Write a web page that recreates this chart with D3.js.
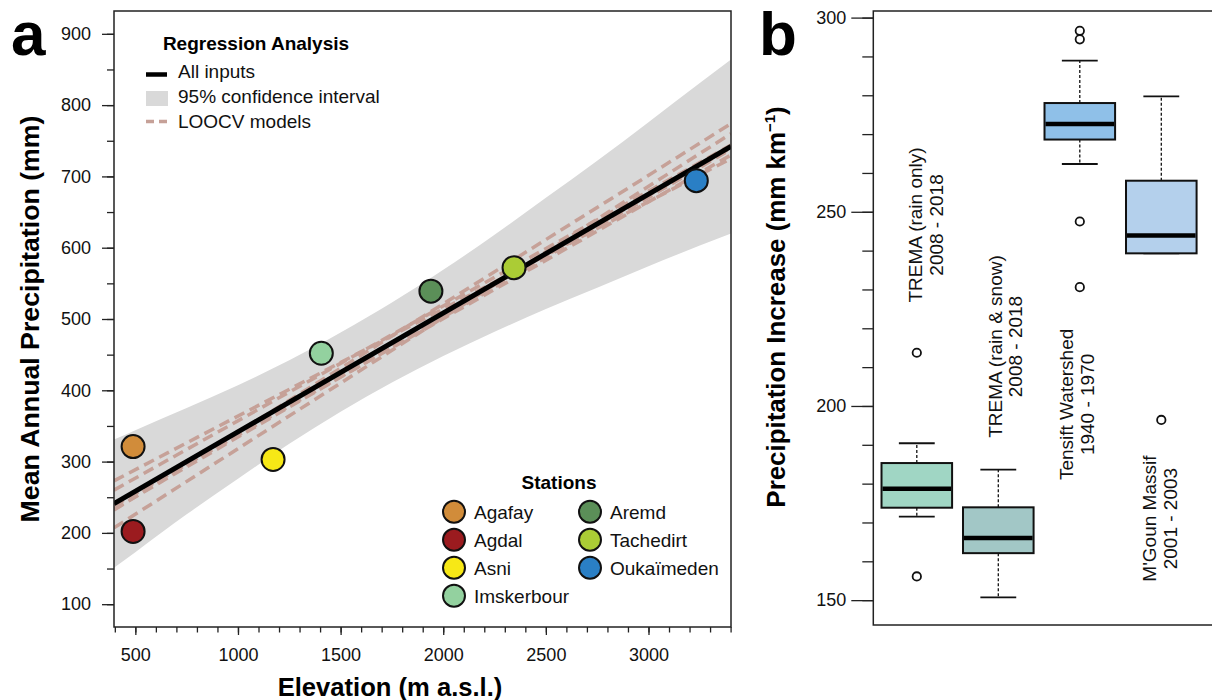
<!DOCTYPE html>
<html>
<head>
<meta charset="utf-8">
<script src="https://cdn.jsdelivr.net/npm/d3@7"></script>
<style>
    body { margin: 0; background: #fff; }
    svg { display: block; font-family: "Liberation Sans", Arial, sans-serif; }
</style>
</head>
<body>
<div id="chart"></div>
<script>
// Panel a: Stationen
const stationNames = ["Agafay", "Agdal", "Asni", "Imskerbour", "Aremd", "Tachedirt", "Oukaïmeden"];
const stationElevation = [489, 489, 1171, 1406, 1940, 2345, 3233];
const stationPrecip = [321, 202, 303, 452, 539, 572, 694];

// Regression (alle Stationen) und 95%-Konfidenzband
const fitElevation = [396, 3402];
const fitPrecip = [241, 742];
const bandElevation = [396, 500, 750, 1000, 1250, 1500, 1750, 2000, 2250, 2500, 2750, 3000, 3250, 3402];
const bandLower = [151, 173, 226, 276, 325, 370, 411, 448, 482, 514, 544, 574, 603, 620];
const bandUpper = [331, 344, 375, 407, 442, 481, 523, 569, 618, 670, 722, 776, 831, 864];

// LOOCV-Modelle: Wert am linken und rechten Rand
const loocvLeft = [207, 273, 260, 233, 238, 241, 232];
const loocvRight = [760, 725, 744, 738, 730, 740, 774];

const xTicksA = [500, 1000, 1500, 2000, 2500, 3000];
const xMinorA = [400, 500, 600, 700, 800, 900, 1000, 1100, 1200, 1300, 1400, 1500, 1600, 1700, 1800, 1900, 2000,
    2100, 2200, 2300, 2400, 2500, 2600, 2700, 2800, 2900, 3000, 3100, 3200, 3300, 3400];
const yTicksA = [100, 200, 300, 400, 500, 600, 700, 800, 900];
const yMinorA = [100, 150, 200, 250, 300, 350, 400, 450, 500, 550, 600, 650, 700, 750, 800, 850, 900];

// Panel b: Boxplots
const boxLine1 = ["TREMA (rain only)", "TREMA (rain & snow)", "Tensift Watershed", "M'Goun Massif"];
const boxLine2 = ["2008 - 2018", "2008 - 2018", "1940 - 1970", "2001 - 2003"];
const whiskerLow = [171.5, 150.7, 262.3, 239.3];
const boxQ1 = [173.8, 162.1, 268.6, 239.3];
const boxMedian = [178.7, 166.0, 272.6, 243.9];
const boxQ3 = [185.3, 173.9, 278.0, 258.0];
const whiskerHigh = [190.4, 183.6, 288.9, 279.7];
const boxOutliers = [[213.7, 156.1], [], [296.6, 294.4, 247.5, 230.6], [196.4]];
const labelPos = [1.064, 2.042, 2.92, 3.935];
const labelCenter = [246.6, 215.3, 200.4, 171.0];

const yTicksB = [150, 200, 250, 300];
const yMinorB = [150, 160, 170, 180, 190, 200, 210, 220, 230, 240, 250, 260, 270, 280, 290, 300];

const stationColors = ["#d18c3a", "#9b1b1f", "#f7e816", "#93d19f", "#5b8f58", "#abcc35", "#2a7fc5"];
const boxColors = ["#a0d6c4", "#a2c7c6", "#8fc0e8", "#b4d0ec"];
const loocvColor = "#c6a198";

const svg = d3.select("#chart")
    .append("svg")
    .attr("width", 1212)
    .attr("height", 700);

function styleAxis(g, fontSize) {
    g.selectAll(".tick line").attr("stroke", "#222").attr("stroke-width", 1.3);
    g.selectAll(".tick text").attr("fill", "#111").style("font-size", fontSize + "px")
        .style("font-family", "'Liberation Sans', Arial, sans-serif");
    g.select(".domain").remove();
}

function renderRegression() {
    const left = 114, right = 731, top = 11, bottom = 627;

    const x = d3.scaleLinear().domain([396, 3402]).range([left, right]);
    const y = d3.scaleLinear().domain([68, 932]).range([bottom, top]);

    svg.append("defs").append("clipPath").attr("id", "clipA")
        .append("rect")
        .attr("x", left).attr("y", top)
        .attr("width", right - left).attr("height", bottom - top);

    const plot = svg.append("g").attr("clip-path", "url(#clipA)");

    const band = bandElevation.map((e, i) => ({ e, lo: bandLower[i], hi: bandUpper[i] }));
    plot.append("path")
        .datum(band)
        .attr("d", d3.area()
            .x(d => x(d.e))
            .y0(d => y(d.lo))
            .y1(d => y(d.hi))
            .curve(d3.curveMonotoneX))
        .attr("fill", "#d9d9d9");

    plot.append("g")
        .selectAll("line")
        .data(loocvLeft.map((v, i) => [v, loocvRight[i]]))
        .enter()
        .append("line")
        .attr("x1", x(fitElevation[0]))
        .attr("x2", x(fitElevation[1]))
        .attr("y1", d => y(d[0]))
        .attr("y2", d => y(d[1]))
        .attr("stroke", loocvColor)
        .attr("stroke-width", 3.5)
        .attr("stroke-dasharray", "11,6");

    plot.append("line")
        .attr("x1", x(fitElevation[0]))
        .attr("x2", x(fitElevation[1]))
        .attr("y1", y(fitPrecip[0]))
        .attr("y2", y(fitPrecip[1]))
        .attr("stroke", "#000")
        .attr("stroke-width", 5);

    svg.append("g")
        .selectAll("circle")
        .data(stationNames)
        .enter()
        .append("circle")
        .attr("cx", (d, i) => x(stationElevation[i]))
        .attr("cy", (d, i) => y(stationPrecip[i]))
        .attr("r", 11.5)
        .attr("fill", (d, i) => stationColors[i])
        .attr("stroke", "#111")
        .attr("stroke-width", 2);

    // Achsen
    svg.append("g")
        .attr("transform", `translate(${left},0)`)
        .call(d3.axisLeft(y).tickValues(yMinorA).tickSize(7).tickFormat(""))
        .call(g => styleAxis(g, 18));
    svg.append("g")
        .attr("transform", `translate(${left},0)`)
        .call(d3.axisLeft(y).tickValues(yTicksA).tickSize(12).tickPadding(11).tickFormat(d3.format("d")))
        .call(g => styleAxis(g, 18));
    svg.append("g")
        .attr("transform", `translate(0,${bottom})`)
        .call(d3.axisBottom(x).tickValues(xMinorA).tickSize(5.5).tickFormat(""))
        .call(g => styleAxis(g, 18));
    svg.append("g")
        .attr("transform", `translate(0,${bottom})`)
        .call(d3.axisBottom(x).tickValues(xTicksA).tickSize(8).tickPadding(13).tickFormat(d3.format("d")))
        .call(g => styleAxis(g, 18));

    svg.append("rect")
        .attr("x", left).attr("y", top)
        .attr("width", right - left).attr("height", bottom - top)
        .attr("fill", "none").attr("stroke", "#222").attr("stroke-width", 1.5);

    svg.append("text")
        .attr("x", 390).attr("y", 696)
        .attr("text-anchor", "middle")
        .style("font-size", "25.6px").style("font-weight", "bold")
        .text("Elevation (m a.s.l.)");

    svg.append("text")
        .attr("transform", `translate(39,${(top + bottom) / 2}) rotate(-90)`)
        .attr("text-anchor", "middle")
        .style("font-size", "26.7px").style("font-weight", "bold")
        .text("Mean Annual Precipitation (mm)");

    svg.append("text")
        .attr("x", 11).attr("y", 55)
        .style("font-size", "62px").style("font-weight", "bold")
        .text("a");

    // Legende Regression
    const leg = svg.append("g");
    leg.append("text").attr("x", 256).attr("y", 50).attr("text-anchor", "middle")
        .style("font-size", "19px").style("font-weight", "bold").text("Regression Analysis");
    leg.append("line").attr("x1", 146).attr("x2", 167).attr("y1", 74.5).attr("y2", 74.5)
        .attr("stroke", "#000").attr("stroke-width", 4.5);
    leg.append("rect").attr("x", 146).attr("y", 91).attr("width", 22).attr("height", 15)
        .attr("fill", "#d9d9d9");
    leg.append("line").attr("x1", 146).attr("x2", 168).attr("y1", 121.5).attr("y2", 121.5)
        .attr("stroke", loocvColor).attr("stroke-width", 3.5).attr("stroke-dasharray", "8,5");
    ["All inputs", "95% confidence interval", "LOOCV models"].forEach((t, i) => {
        leg.append("text").attr("x", 178).attr("y", 78.3 + i * 24.7)
            .style("font-size", "19px").attr("fill", "#111").text(t);
    });

    // Legende Stationen
    const st = svg.append("g");
    st.append("text").attr("x", 559).attr("y", 489).attr("text-anchor", "middle")
        .style("font-size", "19px").style("font-weight", "bold").text("Stations");
    stationNames.forEach((name, i) => {
        const col = i < 4 ? 0 : 1;
        const row = i < 4 ? i : i - 4;
        const cx = col === 0 ? 454 : 590;
        const cy = 511.7 + row * 28;
        st.append("circle").attr("cx", cx).attr("cy", cy).attr("r", 11)
            .attr("fill", stationColors[i]).attr("stroke", "#111").attr("stroke-width", 2);
        st.append("text").attr("x", cx + 20).attr("y", cy + 6.8)
            .style("font-size", "19px").attr("fill", "#111").text(name);
    });
}

function renderBoxplots() {
    const left = 873.3, top = 11, bottom = 625;

    const x = d3.scaleLinear().domain([1, 4]).range([916.8, 1161.3]);
    const y = d3.scaleLinear().domain([143.6, 301.7]).range([bottom, top]);
    const half = x(1.433) - x(1);
    const capHalf = x(1.22) - x(1);

    const boxes = boxLine1.map((name, i) => ({
        i, pos: i + 1,
        lo: whiskerLow[i], q1: boxQ1[i], med: boxMedian[i], q3: boxQ3[i], hi: whiskerHigh[i],
        out: boxOutliers[i]
    }));

    const g = svg.append("g");

    // Whisker (gestrichelt)
    g.selectAll(".wh-up").data(boxes).enter().append("line")
        .attr("x1", d => x(d.pos)).attr("x2", d => x(d.pos))
        .attr("y1", d => y(d.q3)).attr("y2", d => y(d.hi))
        .attr("stroke", "#111").attr("stroke-width", 1.3).attr("stroke-dasharray", "3,2");
    g.selectAll(".wh-lo").data(boxes).enter().append("line")
        .attr("x1", d => x(d.pos)).attr("x2", d => x(d.pos))
        .attr("y1", d => y(d.q1)).attr("y2", d => y(d.lo))
        .attr("stroke", "#111").attr("stroke-width", 1.3).attr("stroke-dasharray", "3,2");
    [d => d.hi, d => d.lo].forEach(acc => {
        g.append("g").selectAll("line").data(boxes).enter().append("line")
            .attr("x1", d => x(d.pos) - capHalf).attr("x2", d => x(d.pos) + capHalf)
            .attr("y1", d => y(acc(d))).attr("y2", d => y(acc(d)))
            .attr("stroke", "#111").attr("stroke-width", 1.8);
    });

    g.append("g").selectAll("rect").data(boxes).enter().append("rect")
        .attr("x", d => x(d.pos) - half)
        .attr("width", 2 * half)
        .attr("y", d => y(d.q3))
        .attr("height", d => y(d.q1) - y(d.q3))
        .attr("fill", d => boxColors[d.i])
        .attr("stroke", "#111").attr("stroke-width", 2);

    g.append("g").selectAll("line").data(boxes).enter().append("line")
        .attr("x1", d => x(d.pos) - half + 1).attr("x2", d => x(d.pos) + half - 1)
        .attr("y1", d => y(d.med)).attr("y2", d => y(d.med))
        .attr("stroke", "#000").attr("stroke-width", 4.5);

    const outs = boxes.flatMap(d => d.out.map(v => ({ pos: d.pos, v })));
    g.append("g").selectAll("circle").data(outs).enter().append("circle")
        .attr("cx", d => x(d.pos)).attr("cy", d => y(d.v)).attr("r", 4.2)
        .attr("fill", "none").attr("stroke", "#111").attr("stroke-width", 1.8);

    // Beschriftungen (gedreht)
    boxes.forEach(d => {
        const lx = x(labelPos[d.i]);
        const ly = y(labelCenter[d.i]);
        [boxLine1[d.i], boxLine2[d.i]].forEach((t, k) => {
            svg.append("text")
                .attr("transform", `translate(${lx + k * 20.5},${ly}) rotate(-90)`)
                .attr("text-anchor", "middle")
                .style("font-size", "19px").attr("fill", "#111")
                .text(t);
        });
    });

    svg.append("g")
        .attr("transform", `translate(${left},0)`)
        .call(d3.axisLeft(y).tickValues(yMinorB).tickSize(11).tickFormat(""))
        .call(a => styleAxis(a, 18));
    svg.append("g")
        .attr("transform", `translate(${left},0)`)
        .call(d3.axisLeft(y).tickValues(yTicksB).tickSize(22).tickPadding(5).tickFormat(d3.format("d")))
        .call(a => styleAxis(a, 18));

    svg.append("rect")
        .attr("x", left).attr("y", top)
        .attr("width", 400).attr("height", bottom - top)
        .attr("fill", "none").attr("stroke", "#222").attr("stroke-width", 1.5);

    const title = svg.append("text")
        .attr("transform", "translate(785,307) rotate(-90)")
        .attr("text-anchor", "middle")
        .style("font-size", "25.9px").style("font-weight", "bold");
    title.append("tspan").text("Precipitation Increase (mm km");
    title.append("tspan").attr("dy", -10).style("font-size", "15px").text("−1");
    title.append("tspan").attr("dy", 10).text(")");

    svg.append("text")
        .attr("x", 759).attr("y", 55)
        .style("font-size", "62px").style("font-weight", "bold")
        .text("b");
}

renderRegression();
renderBoxplots();
</script>
</body>
</html>
